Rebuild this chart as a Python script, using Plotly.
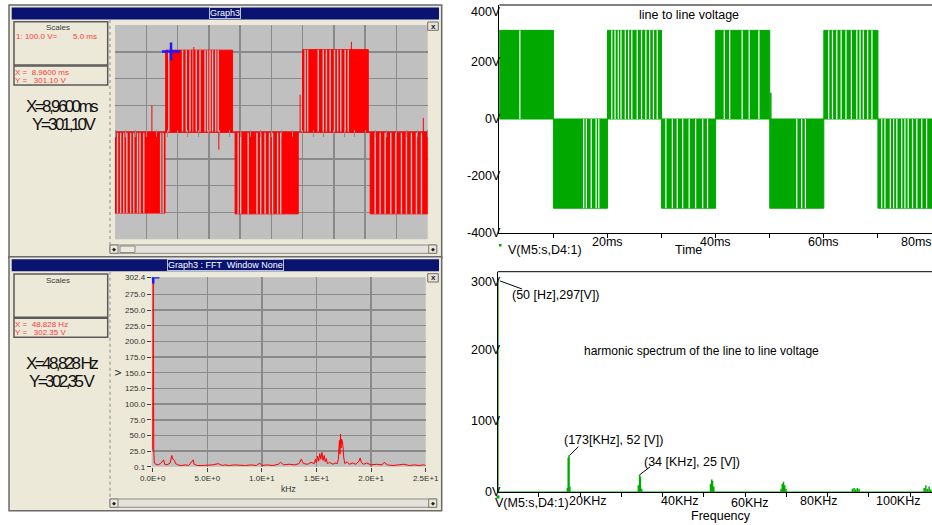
import plotly.graph_objects as go

W, H = 932, 525
FONT = "Liberation Sans, Arial, sans-serif"

# ---------------- data ----------------
# Graph3 (top-left): PWM line voltage, time [ms], voltage [V]
scope_block_start = [0.0, 8.1, 19.2, 30.0, 40.8]
scope_block_end = [8.0, 18.8, 29.3, 40.5, 50.0]
scope_block_level = [-302, 306, -305, 308, -305]
scope_gap_t = [0.4, 0.9, 1.4, 1.9, 2.5, 3.0, 3.6, 4.0, 4.6, 7.3, 7.7,
               8.6, 10.8, 11.4, 12.0, 12.5, 13.0, 13.6, 14.4, 14.8, 15.2, 15.6, 16.1, 16.5,
               19.7, 20.1, 21.3, 22.7, 23.3, 24.0, 24.7, 25.2, 26.0, 26.5,
               30.4, 30.8, 32.5, 33.3, 33.8, 34.4, 35.1, 35.6, 36.1, 36.8, 37.3,
               41.6, 42.4, 43.2, 44.1, 44.9, 45.8, 46.6, 47.4, 48.2, 49.0]
scope_spike_t = [5.9, 12.6, 16.6, 29.6, 37.8, 49.3]
scope_spike_v = [100, 318, -65, 140, 337, 53]
scope_cursor_t = [8.96]
scope_cursor_v = [301.10]

# Graph3 FFT (bottom-left): frequency [kHz], amplitude [V]
fft_f = [0.0, 0.05, 0.1, 0.15, 0.3, 0.5, 0.7, 1.0, 1.1, 1.3,
         1.6, 1.75, 1.85, 2.0, 2.1, 2.3, 2.6, 3.0, 3.3, 3.6,
         3.7, 3.8, 4.1, 4.5, 5.0, 5.5, 6.0, 6.4, 6.6, 7.0,
         7.5, 8.0, 8.5, 9.0, 9.5, 9.8, 10.0, 10.5, 11.0, 11.5,
         11.7, 12.0, 12.5, 13.0, 13.4, 13.6, 13.8, 14.2, 14.5, 14.8,
         14.9, 15.0, 15.1, 15.2, 15.3, 15.4, 15.5, 15.6, 15.7, 15.8,
         15.9, 16.0, 16.2, 16.5, 16.7, 16.9, 17.0, 17.1, 17.15, 17.2,
         17.25, 17.3, 17.4, 17.5, 17.6, 17.8, 18.0, 18.3, 18.6, 18.9,
         19.0, 19.1, 19.3, 19.6, 20.0, 20.5, 21.0, 21.2, 21.5, 22.0,
         22.5, 23.0, 23.5, 24.0, 24.4, 24.8, 25.0]
fft_v = [27, 302.35, 27, 6, 4, 3, 5, 11, 4, 3,
         6, 18, 12, 10, 5, 3, 2, 3, 2, 10,
         11, 4, 2, 2, 2, 3, 5, 2, 3, 2,
         3, 2, 2, 3, 2, 6, 2, 3, 2, 4,
         7, 3, 4, 3, 5, 12, 5, 4, 7, 5,
         12, 6, 17, 9, 21, 12, 23, 10, 18, 8,
         13, 5, 7, 4, 6, 5, 12, 42, 20, 52,
         30, 44, 38, 14, 5, 8, 4, 6, 4, 9,
         14, 7, 4, 6, 3, 4, 3, 7, 3, 2,
         3, 4, 2, 3, 2, 3, 2]
fft_cursor_f = [0.048828]
fft_cursor_v = [302.35]
fft_xticks = [0, 5, 10, 15, 20, 25]
fft_xticktext = ["0.0E+0", "5.0E+0", "1.0E+1", "1.5E+1", "2.0E+1", "2.5E+1"]
fft_yticks = [0.1, 25, 50, 75, 100, 125, 150, 175, 200, 225, 250, 275, 302.4]

# line to line voltage (top-right): time [ms], voltage [V]
ll_block_start = [0, 10, 20, 30, 40, 50, 60, 70]
ll_block_end = [10, 20, 30, 40, 50, 60, 70, 80]
ll_block_level = [311, -313, 311, -313, 311, -313, 311, -313]
ll_gap_t = [3.8, 15.6, 16.1, 17.0, 17.9, 18.4,
            20.8, 21.4, 22.0, 22.5, 23.3, 23.9, 24.5, 25.5, 26.3, 27.1, 27.8, 28.5, 29.2,
            30.8, 32.0, 32.9, 33.9, 35.1, 36.3, 37.6, 38.5,
            41.6, 42.6, 44.9, 46.2, 48.0,
            55.0, 55.9, 56.6,
            60.9, 61.6, 62.4, 63.2, 64.1, 65.1, 66.1, 66.7, 67.3, 68.1, 68.9,
            70.7, 71.3, 72.3, 72.9, 73.5, 74.4, 75.0, 75.6, 76.4, 77.2, 78.1, 79.0]
ll_spike_t = [50.2]
ll_spike_v = [92]
ll_xticks = [20, 40, 60, 80]
ll_xticktext = ["20ms", "40ms", "60ms", "80ms"]
ll_yticks = [400, 200, 0, -200, -400]
ll_yticktext = ["400V", "200V", "0V", "-200V", "-400V"]

# harmonic spectrum (bottom-right): frequency [kHz], amplitude [V]
spec_f = [0.05, 16.9, 17.1, 17.3, 17.5, 34.1, 34.4, 34.6, 34.9, 51.6, 51.9, 52.1, 52.4,
          68.7, 69.0, 69.3, 69.6, 69.9, 86.0, 86.4, 86.8, 87.2, 87.6,
          103.4, 103.8, 104.2, 104.6, 105.0]
spec_v = [297, 6, 49, 52, 8, 10, 25, 22, 5, 12, 18, 16, 8,
          5, 12, 15, 10, 5, 5, 6, 4, 6, 5,
          6, 10, 5, 8, 4]
spec_xticks = [20, 40, 60, 80, 100]
spec_xticktext = ["20KHz", "40KHz", "60KHz", "80KHz", "100KHz"]
spec_yticks = [300, 200, 100, 0]
spec_yticktext = ["300V", "200V", "100V", "0V"]
spec_label_f = [0.05, 17.3, 34.4]
spec_label_v = [297, 52, 25]
spec_label_text = ["(50 [Hz],297[V])", "(173[KHz], 52 [V])", "(34 [KHz], 25 [V])"]

# ---------------- helpers ----------------
def px(x):
    return x / W


def py(y):
    return 1 - y / H


def blocks_xy(starts, ends, levels):
    xs, ys = [], []
    for s, e, lv in zip(starts, ends, levels):
        xs += [s, s, e, e, s, None]
        ys += [0, lv, lv, 0, 0, None]
    return xs, ys


def gaps_xy(gaps, starts, ends, levels):
    xs, ys = [], []
    for g in gaps:
        for s, e, lv in zip(starts, ends, levels):
            if s <= g <= e:
                xs += [g, g, None]
                ys += [0, lv, None]
                break
    return xs, ys


def stems_xy(xv, yv):
    xs, ys = [], []
    for a, b in zip(xv, yv):
        xs += [a, a, None]
        ys += [0, b, None]
    return xs, ys


shapes = []
annotations = []


def rect(x0, y0, x1, y1, fill, line=None, lw=1, layer="below"):
    shapes.append(dict(type="rect", xref="paper", yref="paper",
                       x0=px(x0), x1=px(x1), y0=py(y1), y1=py(y0),
                       fillcolor=fill, layer=layer,
                       line=dict(color=line if line else fill, width=lw if line else 0)))


def hline(x0, x1, y, color, lw=1, dash=None, layer="above"):
    shapes.append(dict(type="line", xref="paper", yref="paper",
                       x0=px(x0), x1=px(x1), y0=py(y), y1=py(y), layer=layer,
                       line=dict(color=color, width=lw, dash=dash)))


def vline(x, y0, y1, color, lw=1, dash=None, layer="above"):
    shapes.append(dict(type="line", xref="paper", yref="paper",
                       x0=px(x), x1=px(x), y0=py(y0), y1=py(y1), layer=layer,
                       line=dict(color=color, width=lw, dash=dash)))


def txt(x, y, s, size, color, xanchor="center", yanchor="middle", family=FONT, **kw):
    d = dict(xref="paper", yref="paper", x=px(x), y=py(y), text=s, showarrow=False,
             font=dict(size=size, color=color, family=family),
             xanchor=xanchor, yanchor=yanchor, borderpad=0, borderwidth=0)
    d.update(kw)
    annotations.append(d)


BEIGE = "#ECE9D8"
NAVY = "#0A1470"
SCOPE_GRAY = "#C0C0C0"
GRID = "#8A8A8A"
RED = "#FF0000"
TXTRED = "#FF3A3A"
GREEN = "#00A800"

# ---------------- window chrome (left) ----------------
for (top, bottom, title, plot_box) in [
        (5, 258, "Graph3", (115, 25, 427.7, 239.3)),
        (256.7, 510.7, "Graph3 : FFT  Window None", (151.7, 277.2, 425.7, 466.7))]:
    rect(9, top, 441.7, bottom, BEIGE, "#6A6A6A", 1.5)
    rect(11.7, top + 2.5, 439, top + 14.5, NAVY)
    txt(225, top + 8.5, title, 9, "#FFFFFF", bordercolor="#B8C0DC", borderwidth=1, borderpad=0)
    rect(*plot_box, SCOPE_GRAY)
    rect(427.7, top + 17, 438.3, top + 25.3, "#E6E3D6", "#707070", 1)
    txt(433, top + 21, "<b>x</b>", 8, "#202020")
    sb_top = bottom - 13 if top < 100 else bottom - 11.7
    rect(110, sb_top, 436.7, sb_top + 8.3, "#E4E2DA", "#8A8A8A", 1)
    rect(110, sb_top, 118, sb_top + 8.3, BEIGE, "#7A7A7A", 1)
    rect(428.7, sb_top, 436.7, sb_top + 8.3, BEIGE, "#7A7A7A", 1)
    txt(114, sb_top + 4.2, "◆", 5, "#202020")
    txt(432.7, sb_top + 4.2, "◆", 5, "#202020")
    vline(110, top + 15, sb_top, "#8A8A8A", 1, dash="dot")

# scrollbar thumb of top window
rect(120, 246, 135, 252.5, BEIGE, "#8A8A8A", 1)

# info boxes
rect(14, 21.7, 107.7, 65, BEIGE, "#5A5A5A", 1.5)
rect(14, 66, 107.7, 85, BEIGE, "#5A5A5A", 1.5)
rect(14, 274, 107.7, 317.3, BEIGE, "#5A5A5A", 1.5)
rect(14, 318.3, 107.7, 337.3, BEIGE, "#5A5A5A", 1.5)

txt(58, 27.5, "Scales", 8, "#3A3A3A")
txt(16, 36, "1: 100.0 V=", 8, TXTRED, xanchor="left")
txt(73, 36, "5.0 ms", 8, TXTRED, xanchor="left")
txt(15, 72.5, "X =  8.9600 ms", 8, TXTRED, xanchor="left")
txt(15, 80.8, "Y =   301.10 V", 8, TXTRED, xanchor="left")
BIG = '<span style="letter-spacing:-2.6px">%s</span>'
txt(62.5, 106.7, BIG % "X=8,9600ms", 17, "#111111")
txt(63.5, 124.3, BIG % "Y=301,10V", 17, "#111111")

txt(58, 280.5, "Scales", 8, "#3A3A3A")
txt(15, 324.3, "X =  48.828 Hz", 8, TXTRED, xanchor="left")
txt(15, 332.4, "Y =   302.35 V", 8, TXTRED, xanchor="left")
txt(62, 363.3, BIG % "X=48,828 Hz", 17, "#111111")
txt(62.5, 381.7, BIG % "Y=302,35 V", 17, "#111111")

txt(118.5, 372.3, "V", 9, "#303030", textangle=-90)
txt(288.3, 489, "kHz", 8.5, "#303030")

# ---------------- right panels decorations ----------------
hline(499.3, 932, 5, "#000000", 1)
hline(497.7, 932, 271.7, "#000000", 1)
txt(689, 15, "line to line voltage", 12.5, "#000000")
txt(688, 250, "Time", 12.5, "#000000")
txt(508, 249.5, "V(M5:s,D4:1)", 12.5, "#000000", xanchor="left")
rect(499, 244, 501.5, 246.5, GREEN, layer="above")

txt(701.7, 350.5, "harmonic spectrum of the line to line voltage", 12, "#000000")
txt(721.3, 516, "Frequency", 12.5, "#000000")
txt(495, 503.3, "V(M5:s,D4:1)", 12.5, "#000000", xanchor="left")
rect(496.5, 495.5, 499.5, 498.5, GREEN, layer="above")

# tick labels for the right panels
for v, t in zip(ll_yticks, ll_yticktext):
    annotations.append(dict(xref="paper", yref="y2", x=px(501), y=v, text=t, showarrow=False,
                            xanchor="right", yanchor="middle", borderpad=0, borderwidth=0,
                            yshift=-7.3 if v == max(ll_yticks) else 0,
                            font=dict(size=12.5, color="#000000", family=FONT)))
for v, t in zip(ll_xticks, ll_xticktext):
    last = v == max(ll_xticks)
    annotations.append(dict(xref="x2", yref="paper", x=v, y=py(242.3), text=t, showarrow=False,
                            xanchor="right" if last else "center", yanchor="middle",
                            borderpad=0, borderwidth=0,
                            font=dict(size=12.5, color="#000000", family=FONT)))
for v, t in zip(spec_yticks, spec_yticktext):
    annotations.append(dict(xref="paper", yref="y4", x=px(500.5), y=v, text=t, showarrow=False,
                            xanchor="right", yanchor="middle", borderpad=0, borderwidth=0,
                            yshift=-2.7 if v == max(spec_yticks) else 0,
                            font=dict(size=12.5, color="#000000", family=FONT)))
spec_label_xshift = [8, 17, 5, -9, -12]
spec_label_yshift = [0, 0, -2.3, 0, 0]
for v, t, dx, dy in zip(spec_xticks, spec_xticktext, spec_label_xshift, spec_label_yshift):
    annotations.append(dict(xref="x4", yref="paper", x=v, y=py(500.5), text=t, showarrow=False,
                            xanchor="center", yanchor="middle", xshift=dx, yshift=dy,
                            borderpad=0, borderwidth=0,
                            font=dict(size=12.5, color="#000000", family=FONT)))

# peak callouts in the spectrum
callout_text_shift = [(58, -14), (44, 15), (52.5, 13)]
callout_leader = [(2, 0, 24, -8), (0.7, 0, 9.3, 8.6), (0.5, 0, 10.5, 7.7)]
for f, v, t, (dx, dy), (lx0, ly0, lx1, ly1) in zip(spec_label_f, spec_label_v, spec_label_text,
                                                   callout_text_shift, callout_leader):
    annotations.append(dict(xref="x4", yref="y4", x=f, y=v, text=t, showarrow=False,
                            xanchor="center", yanchor="middle", xshift=dx, yshift=dy,
                            borderpad=0, borderwidth=0,
                            font=dict(size=12.5, color="#000000", family=FONT)))
    shapes.append(dict(type="line", xref="x4", yref="y4", xsizemode="pixel", ysizemode="pixel",
                       xanchor=f, yanchor=v, x0=lx0, x1=lx1, y0=ly0, y1=ly1, layer="above",
                       line=dict(color="#000000", width=1)))

# ---------------- traces ----------------
fig = go.Figure()

# top-left scope
bx, by = blocks_xy(scope_block_start, scope_block_end, scope_block_level)
fig.add_trace(go.Scatter(x=bx, y=by, mode="lines", fill="toself", fillcolor=RED,
                         line=dict(color=RED, width=1), xaxis="x", yaxis="y", hoverinfo="skip"))
gx, gy = gaps_xy(scope_gap_t, scope_block_start, scope_block_end, scope_block_level)
fig.add_trace(go.Scatter(x=gx, y=gy, mode="lines", line=dict(color=SCOPE_GRAY, width=1.4),
                         xaxis="x", yaxis="y", hoverinfo="skip"))
sx, sy = stems_xy(scope_spike_t, scope_spike_v)
fig.add_trace(go.Scatter(x=sx, y=sy, mode="lines", line=dict(color=RED, width=1),
                         xaxis="x", yaxis="y", hoverinfo="skip"))
fig.add_trace(go.Scatter(x=[scope_block_start[0], scope_block_end[-1]], y=[0, 0], mode="lines",
                         line=dict(color=RED, width=1), xaxis="x", yaxis="y", hoverinfo="skip"))
fig.add_trace(go.Scatter(x=scope_cursor_t, y=scope_cursor_v, mode="markers",
                         marker=dict(symbol="cross-thin", size=13, line=dict(color="#1A1AFF", width=2.5)),
                         xaxis="x", yaxis="y", hoverinfo="skip"))

# bottom-left FFT
fig.add_trace(go.Scatter(x=fft_f, y=fft_v, mode="lines", line=dict(color=RED, width=1),
                         xaxis="x3", yaxis="y3", hoverinfo="skip"))
fig.add_trace(go.Scatter(x=fft_cursor_f, y=fft_cursor_v, mode="markers",
                         marker=dict(symbol="cross-thin", size=9, line=dict(color="#1A1AFF", width=2.5)),
                         xaxis="x3", yaxis="y3", hoverinfo="skip"))

# top-right line to line voltage
bx, by = blocks_xy(ll_block_start, ll_block_end, ll_block_level)
fig.add_trace(go.Scatter(x=bx, y=by, mode="lines", fill="toself", fillcolor=GREEN,
                         line=dict(color=GREEN, width=1), xaxis="x2", yaxis="y2", hoverinfo="skip"))
gx, gy = gaps_xy(ll_gap_t, ll_block_start, ll_block_end, ll_block_level)
fig.add_trace(go.Scatter(x=gx, y=gy, mode="lines", line=dict(color="#FFFFFF", width=1.2),
                         xaxis="x2", yaxis="y2", hoverinfo="skip"))
sx, sy = stems_xy(ll_spike_t, ll_spike_v)
fig.add_trace(go.Scatter(x=sx, y=sy, mode="lines", line=dict(color=GREEN, width=1.5),
                         xaxis="x2", yaxis="y2", hoverinfo="skip"))

# bottom-right spectrum
SPEC_XMAX = 105.3
fig.add_trace(go.Scatter(x=[0, SPEC_XMAX], y=[0, 0], mode="lines", line=dict(color=GREEN, width=1.5),
                         xaxis="x4", yaxis="y4", hoverinfo="skip", cliponaxis=False))
sx, sy = stems_xy(spec_f, spec_v)
fig.add_trace(go.Scatter(x=sx, y=sy, mode="lines", line=dict(color=GREEN, width=1.5),
                         xaxis="x4", yaxis="y4", hoverinfo="skip"))

# ---------------- axes ----------------
tl_x = [px(115), px(427.7)]
tl_y = [py(239.3), py(25)]
zero_pos = tl_y[0] + 0.5 * (tl_y[1] - tl_y[0])

fig.update_layout(
    width=W, height=H, autosize=False,
    margin=dict(l=0, r=0, t=0, b=0, pad=0, autoexpand=False),
    paper_bgcolor="#FFFFFF", plot_bgcolor="rgba(0,0,0,0)",
    showlegend=False, hovermode=False,
    shapes=shapes, annotations=annotations,
    xaxis=dict(domain=tl_x, range=[0, 50], anchor="free", position=zero_pos + 3.5 / H,
               automargin=False,
               showgrid=True, gridcolor=GRID, gridwidth=1.5, tick0=0, dtick=5,
               showticklabels=False, zeroline=False, showline=False,
               ticks="outside", ticklen=7, tickcolor="#8C8C8C",
               minor=dict(dtick=5 / 3, tick0=0, ticks="outside", ticklen=7, tickcolor="#8C8C8C",
                          showgrid=False)),
    yaxis=dict(domain=tl_y, range=[-400, 400], anchor="x", showgrid=True, gridcolor=GRID,
               automargin=False,
               gridwidth=1.5, tick0=-400, dtick=100, showticklabels=False, zeroline=False,
               showline=False, ticks=""),
    xaxis2=dict(domain=[px(499.3), 1.0], range=[0, 80], anchor="y2", showgrid=False,
                automargin=False,
                zeroline=False, showline=True, linecolor="#000000", linewidth=1,
                tickvals=[10 * i for i in range(1, 8)], ticks="outside", ticklen=4,
                tickcolor="#000000", showticklabels=False),
    yaxis2=dict(domain=[py(233), py(5)], range=[-400, 400], anchor="x2", showgrid=False,
                automargin=False,
                zeroline=False, showline=True, linecolor="#000000", linewidth=1,
                showticklabels=False, ticks=""),
    xaxis3=dict(domain=[px(151.7), px(425.7)], range=[-0.09, 25], anchor="y3",
                automargin=False,
                showgrid=True, gridcolor=GRID, gridwidth=1.5, zeroline=False, showline=False,
                tickvals=fft_xticks, ticktext=fft_xticktext, ticks="outside", ticklen=4,
                tickcolor="#404040",
                tickfont=dict(size=8, color="#303030", family=FONT)),
    yaxis3=dict(domain=[py(466.7), py(277.2)], range=[0.1, 302.4], anchor="x3",
                automargin=False,
                showgrid=True, gridcolor=GRID, gridwidth=1.5, zeroline=False, showline=False,
                tickvals=fft_yticks, ticktext=["%.1f" % v for v in fft_yticks],
                ticks="outside", ticklen=4, tickcolor="#404040",
                tickfont=dict(size=8, color="#303030", family=FONT)),
    xaxis4=dict(domain=[px(497.7), 1.0], range=[0, SPEC_XMAX], anchor="y4", showgrid=False,
                automargin=False,
                zeroline=False, showline=True, linecolor="#000000", linewidth=1,
                tickvals=[10 * i for i in range(1, 11)], ticks="outside", ticklen=4,
                tickcolor="#000000", showticklabels=False),
    yaxis4=dict(domain=[py(492.3), py(271.7)], range=[0, 310], anchor="x4", showgrid=False,
                automargin=False,
                zeroline=False, showline=True, linecolor="#000000", linewidth=1,
                showticklabels=False, ticks=""),
)

fig.write_html("out.html",
               config={"displayModeBar": False, "staticPlot": True},
               post_script="document.body.style.margin='0';document.body.style.overflow='hidden';")
